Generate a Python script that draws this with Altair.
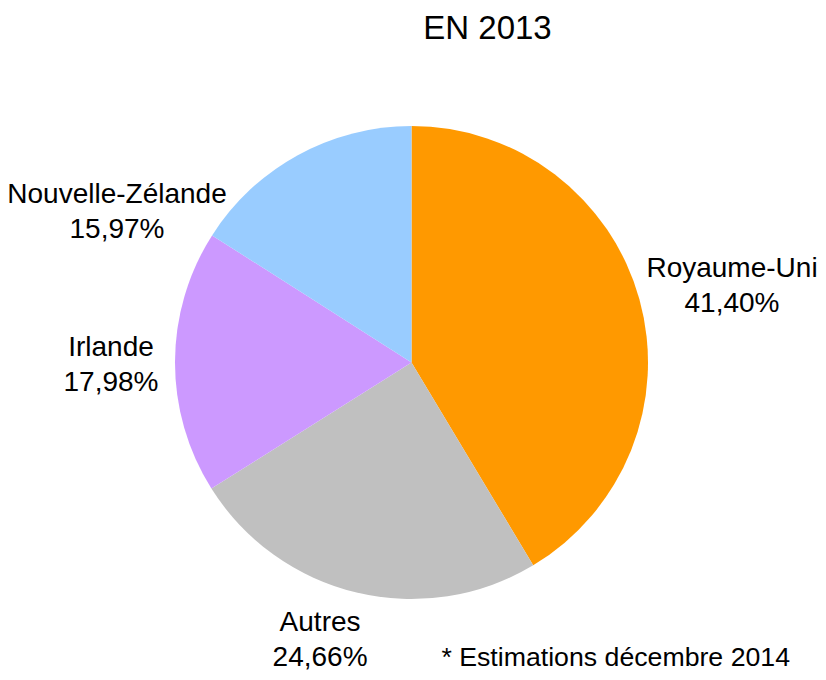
import altair as alt
import pandas as pd

# ---- data ----
categories = ["Royaume-Uni", "Autres", "Irlande", "Nouvelle-Zélande"]
shares = [41.40, 24.66, 17.98, 15.97]
share_labels = ["41,40%", "24,66%", "17,98%", "15,97%"]
colors = ["#FF9900", "#C0C0C0", "#CC99FF", "#99CCFF"]
title_text = "EN 2013"
footnote_text = ["* Estimations décembre 2014"]

# ---- label placement (style): angle clockwise from top (deg), distance from centre (px)
label_angle = [76.66, 198.2, 269.4, 297.0]
label_dist = [329.4, 292.7, 300.5, 330.5]

FONT = "Liberation Sans"
CX, CY, R = 403.5, 306.5, 236.5
W, H = 810, 616

pie_df = pd.DataFrame({"cat": categories, "share": shares, "order": list(range(len(categories)))})
lab_df = pd.DataFrame({
    "lbl": [f"{c}\n{p}" for c, p in zip(categories, share_labels)],
    "ang": label_angle,
    "dist": label_dist,
})
foot_df = pd.DataFrame({"t": footnote_text})

arcs = alt.Chart(pie_df).mark_arc(outerRadius=R).encode(
    theta=alt.Theta("share:Q", stack=True),
    color=alt.Color("cat:N", scale=alt.Scale(domain=categories, range=colors), legend=None),
    order=alt.Order("order:Q"),
    x=alt.value(CX),
    y=alt.value(CY),
)

labels = alt.Chart(lab_df).transform_calculate(
    t="datum.ang * PI / 180"
).mark_text(
    font=FONT, fontSize=28, lineHeight=35, lineBreak="\n",
    align="center", baseline="middle", color="black", dy=-17.5,
).encode(
    theta=alt.Theta("t:Q", scale=None),
    radius=alt.Radius("dist:Q", scale=None),
    text="lbl:N",
    x=alt.value(CX),
    y=alt.value(CY),
)

foot = alt.Chart(foot_df).mark_text(
    font=FONT, fontSize=26.7, align="right", baseline="alphabetic", color="black",
).encode(
    text="t:N",
    x=alt.value(782),
    y=alt.value(H - 6),
)

chart = alt.layer(arcs, labels, foot).properties(
    width=W,
    height=H,
    padding={"top": 48, "left": 0, "right": 0, "bottom": 0},
    autosize=alt.AutoSizeParams(type="none"),
    title=alt.TitleParams(
        text=title_text, font=FONT, fontSize=33, fontWeight="normal",
        color="black", anchor="middle", dx=74.5, offset=10,
    ),
).configure_view(stroke=None)

chart.save("out.html", embed_options={"renderer": "svg", "actions": False})
